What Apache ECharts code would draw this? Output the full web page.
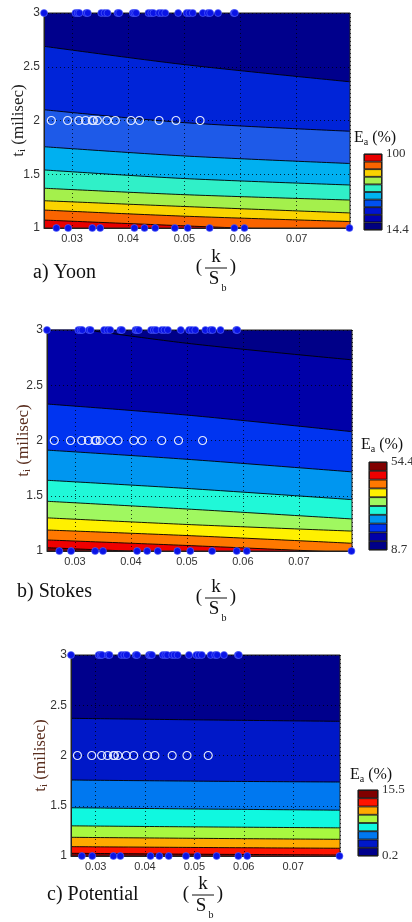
<!DOCTYPE html>
<html><head><meta charset="utf-8">
<script src="https://cdn.jsdelivr.net/npm/echarts@6/dist/echarts.min.js"></script>
<style>html,body{margin:0;padding:0;background:#fff}#c{width:412px;height:922px}</style>
</head><body><div id="c"></div>
<script>
// ---------- data ----------
const X_SAMPLES = [0.025, 0.05, 0.0795];
const X_TICKS = [0.03, 0.04, 0.05, 0.06, 0.07];
const Y_TICKS = [1, 1.5, 2, 2.5, 3];
const Y_MIN = 1, Y_MAX = 3;

// contour boundary lines (t_i at X_SAMPLES), top to bottom
const yoonLevels = [
  [2.69, 2.52, 2.36],
  [2.10, 1.98, 1.90],
  [1.756, 1.67, 1.60],
  [1.54, 1.46, 1.40],
  [1.37, 1.31, 1.26],
  [1.254, 1.20, 1.14],
  [1.167, 1.11, 1.06],
  [1.074, 1.02, 0.96]
];
const yoonColors = ['#00008c', '#0024d8', '#1e5ae8', '#00b0f0', '#30f0c8', '#a4f04c', '#fad400', '#fa6400', '#e80000'];
const yoonBar = ['#e80000', '#fa6400', '#fad200', '#a8f050', '#30f0c8', '#00b4f0', '#0050f0', '#0014d0', '#0000b0', '#000080'];
const yoonBarLabels = ['14.4', '100'];

const stokesLevels = [
  [3.05, 2.88, 2.73],
  [2.33, 2.23, 2.08],
  [1.913, 1.83, 1.716],
  [1.64, 1.566, 1.465],
  [1.45, 1.38, 1.29],
  [1.30, 1.24, 1.18],
  [1.19, 1.14, 1.07],
  [1.10, 1.05, 0.985],
  [1.03, 0.98, 0.94]
];
const stokesColors = ['#000088', '#0000a8', '#0034f0', '#0096f0', '#20f8d8', '#a0f860', '#fff000', '#ff7800', '#f00000', '#800000'];
const stokesBar = ['#800000', '#f00000', '#ff7800', '#fff000', '#a0f860', '#20f8d8', '#0096f0', '#0034f0', '#0000a8', '#000088'];
const stokesBarLabels = ['8.7', '54.4'];

const potLevels = [
  [2.37, 2.355, 2.34],
  [1.756, 1.745, 1.736],
  [1.48, 1.468, 1.456],
  [1.30, 1.29, 1.28],
  [1.186, 1.176, 1.166],
  [1.093, 1.085, 1.077],
  [1.027, 1.018, 1.01]
];
const potColors = ['#00008c', '#0018c8', '#0078f0', '#10f8e0', '#a8f840', '#ffaa00', '#ff1400', '#800000'];
const potBar = ['#800000', '#ff1400', '#ffaa00', '#a8f840', '#10f8e0', '#0078f0', '#0018c8', '#00008c'];
const potBarLabels = ['0.2', '15.5'];

// measured points (k/S_b) in each t_i row
const ROW3_X = [0.0250,0.0306,0.0310,0.0313,0.0325,0.0328,0.0352,0.0358,0.0363,0.0381,0.0384,0.0408,0.0411,0.0414,0.0436,0.0441,0.0445,0.0455,0.0460,0.0466,0.0489,0.0504,0.0509,0.0515,0.0533,0.0542,0.0546,0.0560,0.0588,0.0590];
const ROW2_X = [0.0263,0.0292,0.0312,0.0324,0.0336,0.0338,0.0345,0.0362,0.0377,0.0405,0.0420,0.0455,0.0485,0.0528];
const ROW1_X = [0.0272,0.0293,0.0336,0.0350,0.0411,0.0429,0.0448,0.0483,0.0506,0.0545,0.0589,0.0607,0.0794];

// ---------- layout ----------
const panels = [
  {levels: yoonLevels, colors: yoonColors, bar: yoonBar, barLabels: yoonBarLabels,
   grid: {left: 44, top: 13, width: 306, height: 215}, cb: {left: 364, top: 154, width: 18, height: 76},
   nameGap: 16, nameColor: '#222'},
  {levels: stokesLevels, colors: stokesColors, bar: stokesBar, barLabels: stokesBarLabels,
   grid: {left: 47, top: 330, width: 305, height: 221}, cb: {left: 369, top: 462, width: 18, height: 88},
   nameGap: 14, nameColor: '#5a2e1e'},
  {levels: potLevels, colors: potColors, bar: potBar, barLabels: potBarLabels,
   grid: {left: 71, top: 655, width: 269, height: 201}, cb: {left: 358, top: 790, width: 20, height: 66},
   nameGap: 21, nameColor: '#5a2e1e'}
];

const SANS = 'Liberation Sans, Arial, sans-serif';
const SERIF = 'Liberation Serif, Times New Roman, serif';
const GRIDLINE = {type: [1, 3], color: '#000', opacity: 0.75, width: 1};

const grids = [], xAxes = [], yAxes = [], series = [];
panels.forEach((p, i) => {
  const gi = grids.length;
  grids.push(Object.assign({show: true, borderColor: '#222', borderWidth: 1, backgroundColor: 'transparent', z: 3,
    containLabel: false, outerBoundsMode: 'none'}, p.grid));
  xAxes.push({gridIndex: gi, type: 'value', min: 0.025, max: 0.0795, z: 3,
    axisLine: {show: true, lineStyle: {color: '#222'}}, axisTick: {show: false},
    axisLabel: {fontFamily: SANS, fontSize: 11, color: '#333', margin: 5,
      formatter: v => X_TICKS.some(t => Math.abs(t - v) < 1e-9) ? String(+v.toFixed(2)) : ''},
    splitLine: {show: true, lineStyle: GRIDLINE}});
  yAxes.push({gridIndex: gi, type: 'value', min: Y_MIN, max: Y_MAX, interval: 0.5, z: 3,
    axisLine: {show: true, lineStyle: {color: '#222'}}, axisTick: {show: false},
    axisLabel: {fontFamily: SANS, fontSize: 12, color: '#333', margin: 4,
      formatter: v => Y_TICKS.indexOf(v) >= 0 ? String(v) : ''},
    splitLine: {show: true, lineStyle: GRIDLINE},
    name: 't{s|i} (milisec)', nameLocation: 'middle', nameGap: p.nameGap, nameMoveOverlap: false,
    nameTextStyle: {fontFamily: SERIF, fontSize: 17, color: p.nameColor,
      rich: {s: {fontFamily: SERIF, fontSize: 11, color: p.nameColor, padding: [8, 0, 0, 0]}}}});
  // bands: each filled from its upper boundary down to the axis minimum
  const uppers = [X_SAMPLES.map(() => Y_MAX)].concat(p.levels);
  uppers.forEach((lv, k) => {
    series.push({type: 'line', xAxisIndex: gi, yAxisIndex: gi, z: 1, silent: true,
      data: X_SAMPLES.map((x, j) => [x, lv[j]]), showSymbol: false, smooth: 0.3, clip: true,
      lineStyle: {color: '#000', width: k === 0 ? 0 : 0.9},
      areaStyle: {color: p.colors[k], opacity: 1, origin: 'start'}});
  });
  const dot = {type: 'scatter', xAxisIndex: gi, yAxisIndex: gi, z: 5, silent: true, symbolSize: 7,
    itemStyle: {color: '#0a14e6', borderColor: '#5c6cff', borderWidth: 0.6, opacity: 1}};
  series.push(Object.assign({}, dot, {data: ROW3_X.map(x => [x, 3])}));
  series.push(Object.assign({}, dot, {data: ROW1_X.map(x => [x, 1])}));
  series.push({type: 'scatter', xAxisIndex: gi, yAxisIndex: gi, z: 5, silent: true, symbolSize: 8,
    data: ROW2_X.map(x => [x, 2]),
    itemStyle: {color: 'rgba(0,0,0,0)', borderColor: '#e2e8ff', borderWidth: 1.2, opacity: 1}});

  // colour bar
  const ci = grids.length;
  const n = p.bar.length;
  grids.push(Object.assign({show: true, borderColor: '#111', borderWidth: 1, backgroundColor: 'transparent', z: 3,
    containLabel: false, outerBoundsMode: 'none'}, p.cb));
  xAxes.push({gridIndex: ci, type: 'category', data: [''], show: false});
  yAxes.push({gridIndex: ci, type: 'value', min: 0, max: n, interval: n, position: 'right',
    axisLine: {show: false}, axisTick: {show: false}, splitLine: {show: false},
    axisLabel: {fontFamily: SERIF, fontSize: 13, color: '#333', margin: 4,
      formatter: v => v === 0 ? p.barLabels[0] : p.barLabels[1]}});
  p.bar.slice().reverse().forEach(c => {
    series.push({type: 'bar', xAxisIndex: ci, yAxisIndex: ci, stack: 'cb' + i, data: [1],
      barWidth: '100%', silent: true, z: 1,
      itemStyle: {color: c, borderColor: '#000', borderWidth: 0.8}});
  });
});

// ---------- texts ----------
const graphics = [];
function txt(text, x, y, size, extra) {
  graphics.push({type: 'text', silent: true, style: Object.assign({text, x, y, font: size + 'px ' + SERIF,
    fill: '#111', align: 'center', verticalAlign: 'middle'}, extra || {})});
}
function frac(cx, barY, size) {
  txt('(', cx - 17, barY - 1, size);
  txt(')', cx + 17, barY - 1, size);
  txt('k', cx, barY - 11, size);
  txt('S', cx - 2, barY + 11, size);
  txt('b', cx + 8, barY + 20, 10);
  graphics.push({type: 'line', silent: true, shape: {x1: cx - 11, y1: barY, x2: cx + 11, y2: barY},
    style: {stroke: '#111', lineWidth: 1}});
}
frac(216, 268, 19);
frac(216, 598, 19);
frac(203, 895, 19);
txt('a) Yoon', 33, 273, 20, {align: 'left'});
txt('b) Stokes', 17, 592, 20, {align: 'left'});
txt('c) Potential', 47, 895, 20, {align: 'left'});
function ea(x, y) {
  graphics.push({type: 'text', silent: true, style: {text: '{e|E}{s|a}{e| (%)}', x, y, align: 'left', verticalAlign: 'middle',
    rich: {e: {fontFamily: SERIF, fontSize: 16, fill: '#111'}, s: {fontFamily: SERIF, fontSize: 10, fill: '#111', padding: [8, 0, 0, 0]}}}});
}
ea(354, 138);
ea(361, 445);
ea(350, 775);

const chart = echarts.init(document.getElementById('c'), null, {renderer: 'canvas'});
chart.setOption({animation: false, grid: grids, xAxis: xAxes, yAxis: yAxes, series, graphic: graphics});
</script>
</body></html>
